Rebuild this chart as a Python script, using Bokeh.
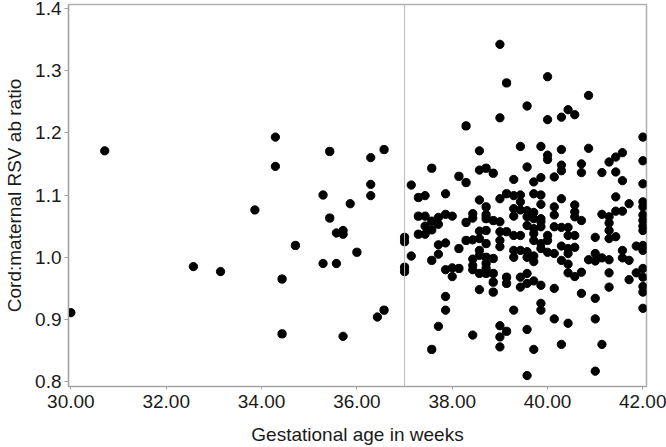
from bokeh.plotting import figure
from bokeh.models import Range1d, FixedTicker, PrintfTickFormatter, Span
from bokeh.embed import file_html
from bokeh.resources import INLINE

# ---- data ----
x_ticks = [30, 32, 34, 36, 38, 40, 42]
y_ticks = [0.8, 0.9, 1.0, 1.1, 1.2, 1.3, 1.4]
term_cutoff = 37

preterm_weeks = [30.00, 30.71, 32.57, 33.14, 33.86, 34.29, 34.29, 34.43, 34.43, 34.71,
                 35.29, 35.29, 35.43, 35.43, 35.57, 35.57, 35.71, 35.71, 35.71, 35.86,
                 36.00, 36.29, 36.29, 36.29, 36.43, 36.57, 36.57]
preterm_ratio = [0.911, 1.171, 0.985, 0.977, 1.076, 1.193, 1.146, 0.965, 0.877, 1.019,
                 1.100, 0.990, 1.170, 1.063, 1.039, 0.990, 1.043, 1.037, 0.873, 1.086,
                 1.008, 1.160, 1.117, 1.099, 0.904, 1.173, 0.915]

term_weeks = [37.00, 37.14, 37.29, 37.43, 37.57, 37.71, 37.86, 38.00, 38.14, 38.29,
              38.43, 38.57, 38.71, 38.86, 39.00, 39.14, 39.29, 39.43, 39.57, 39.71,
              39.86, 40.00, 40.14, 40.29, 40.43, 40.57, 40.71, 40.86, 41.00, 41.14,
              41.29, 41.43, 41.57, 41.71, 41.86, 42.00]
term_ratios = [
    [1.032, 1.025, 0.984, 0.977],
    [1.116, 1.002],
    [1.096, 1.066, 1.037],
    [1.099, 1.066, 1.050, 1.037],
    [1.143, 1.058, 1.044, 0.995, 0.852],
    [1.064, 1.053, 1.020, 1.005, 0.889],
    [1.102, 1.069, 1.023, 0.980, 0.937, 0.915],
    [1.066, 0.983, 0.969],
    [1.130, 1.014, 0.982],
    [1.211, 1.120, 1.056, 1.027],
    [1.070, 1.063, 1.028, 0.997, 0.987, 0.980, 0.875],
    [1.171, 1.140, 1.092, 1.042, 1.030, 1.011, 1.003, 0.974, 0.948],
    [1.143, 1.081, 1.068, 1.062, 1.043, 1.022, 1.000, 0.990, 0.982, 0.974],
    [1.135, 1.059, 0.998, 0.974, 0.960, 0.944],
    [1.342, 1.224, 1.094, 1.057, 1.041, 1.027, 1.017, 0.890, 0.872, 0.856],
    [1.280, 1.102, 1.041, 0.968, 0.958, 0.881],
    [1.125, 1.099, 1.078, 1.066, 1.035, 1.011, 1.000, 0.915],
    [1.178, 1.100, 1.089, 1.076, 1.035, 1.011, 0.968, 0.952],
    [1.243, 1.145, 1.075, 1.065, 1.051, 1.009, 1.000, 0.974, 0.958, 0.884, 0.810],
    [1.121, 1.102, 1.072, 1.062, 1.046, 1.038, 1.027, 1.002, 0.993, 0.962, 0.852],
    [1.178, 1.128, 1.100, 1.085, 1.062, 1.057, 1.049, 1.022, 1.014, 0.955, 0.926, 0.915],
    [1.290, 1.221, 1.164, 1.157, 1.035, 1.027, 1.008],
    [1.129, 1.081, 1.068, 1.049, 1.006, 0.950, 0.901],
    [1.225, 1.173, 1.148, 1.139, 1.094, 1.048, 1.018, 0.995, 0.860],
    [1.237, 1.048, 1.035, 1.014, 1.006, 0.989, 0.975, 0.894],
    [1.229, 1.084, 1.073, 1.065, 1.035, 1.016, 0.969],
    [1.150, 1.136, 1.059, 0.976, 0.942],
    [1.260, 1.175, 0.996],
    [1.032, 1.006, 0.994, 0.934, 0.901, 0.817],
    [1.136, 1.069, 0.999, 0.860],
    [1.153, 1.065, 1.055, 1.043, 1.030, 0.996, 0.975, 0.952],
    [1.161, 1.137, 1.097, 1.074, 1.033],
    [1.168, 1.123, 1.074, 1.011, 0.999],
    [1.086, 0.995, 0.964],
    [1.018, 0.975],
    [1.193, 1.155, 1.118, 1.089, 1.081, 1.068, 1.059, 1.050, 1.043, 1.019, 1.011,
     0.982, 0.968, 0.953, 0.944, 0.918],
]

x_label = "Gestational age in weeks"
y_label = "Cord:maternal RSV ab ratio"

# ---- build point lists ----
weeks = list(preterm_weeks)
ratios = list(preterm_ratio)
for w, col in zip(term_weeks, term_ratios):
    for r in col:
        weeks.append(w)
        ratios.append(r)

FONT = "Liberation Sans"
GRAY = "#a3a3a3"
FS = "19px"

p = figure(width=666, height=447, output_backend="svg", toolbar_location=None,
           x_range=Range1d(29.95, 42.075), y_range=Range1d(0.7924, 1.406),
           min_border_left=68, min_border_right=20, min_border_top=4,
           min_border_bottom=61)
p.xgrid.visible = False
p.ygrid.visible = False
p.outline_line_color = "#b0b0b0"
p.outline_line_width = 1.5
p.background_fill_color = "white"
p.border_fill_color = "white"

p.add_layout(Span(location=term_cutoff, dimension="height",
                  line_color="#b8b8b8", line_width=1))

p.scatter(weeks, ratios, size=8.3, color="black", line_color="black")

for ax in (p.xaxis, p.yaxis):
    ax.axis_line_color = GRAY
    ax.axis_line_width = 1.2
    ax.major_tick_line_color = GRAY
    ax.minor_tick_line_color = None
    ax.major_tick_in = 0
    ax.major_label_text_font = FONT
    ax.major_label_text_font_size = FS
    ax.major_label_text_color = "#1a1a1a"
    ax.axis_label_text_font = FONT
    ax.axis_label_text_font_size = FS
    ax.axis_label_text_font_style = "normal"
    ax.axis_label_text_color = "#1a1a1a"
    ax.axis_label_text_line_height = 1.0

p.xaxis.ticker = FixedTicker(ticks=x_ticks)
p.xaxis.formatter = PrintfTickFormatter(format="%.2f")
p.xaxis.major_tick_out = 3
p.xaxis.major_label_standoff = 5
p.xaxis.axis_label = x_label
p.xaxis.axis_label_standoff = 13

p.yaxis.ticker = FixedTicker(ticks=y_ticks)
p.yaxis.formatter = PrintfTickFormatter(format="%.1f")
p.yaxis.major_tick_out = 4
p.yaxis.major_label_standoff = 3
p.yaxis.major_label_text_line_height = 1.0
p.yaxis.axis_label = y_label
p.yaxis.axis_label_standoff = 7

open("out.html", "w").write(file_html(p, INLINE))
